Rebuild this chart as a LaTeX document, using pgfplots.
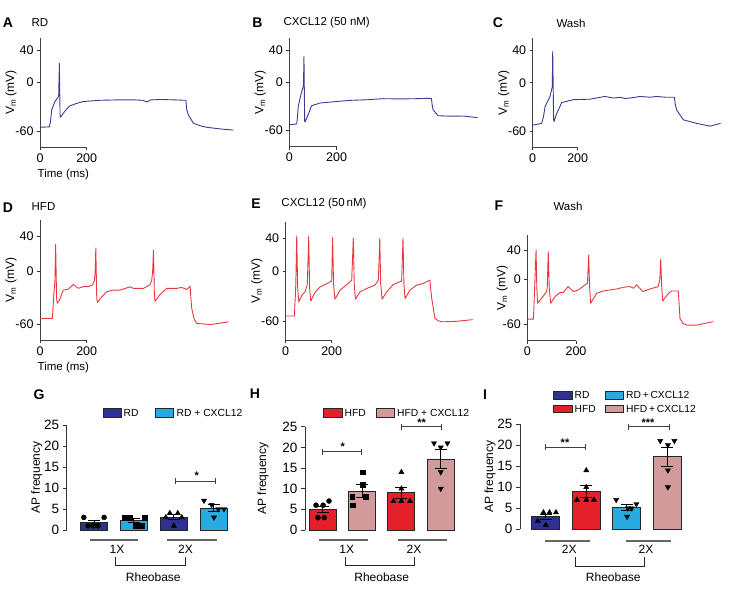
\documentclass[border=0pt]{standalone}
\usepackage{pgfplots}
\pgfplotsset{compat=1.18}
\usepackage{fontspec}
\setmainfont{Liberation Sans}
\definecolor{navy}{HTML}{2E3191}
\definecolor{lblue}{HTML}{29ABE2}
\definecolor{hred}{HTML}{E4212B}
\definecolor{hpink}{HTML}{D39A9B}
\definecolor{tblue}{HTML}{3B3B94}
\definecolor{tred}{HTML}{E8383D}
\newcommand{\fs}[1]{\fontsize{#1}{#1}\selectfont}
\pgfplotsset{
  every non boxed x axis/.append style={x axis line style=-},
  every non boxed y axis/.append style={y axis line style=-},
  trace/.style={scale only axis, clip=false, xmin=0, xmax=200,
    axis x line*=bottom, axis y line*=left,
    xtick={0,200}, ytick={-60,0,40},
    tick align=outside, major tick length=3pt,
    tick style={black!80, line width=0.7pt},
    axis line style={black!75, line width=0.8pt},
    tick label style={font=\fs{12.5}},
    /pgf/number format/assume math mode=true,
    ylabel={V\textsubscript{m} (mV)},
    ylabel style={font=\fs{12}}, ylabel shift=-8pt,
    xlabel style={font=\fs{11.5}},
  },
  tr/.style={line width=0.9pt, line join=round},
  barax/.style={scale only axis, clip=false, ymin=0, ymax=25, ytick={0,5,10,15,20,25},
    hide x axis, axis y line*=left,
    tick align=outside, major tick length=4pt,
    tick style={black!80, line width=0.8pt},
    axis line style={black!80, line width=0.9pt},
    tick label style={font=\fs{13.5}},
    /pgf/number format/assume math mode=true,
    ylabel={AP frequency}, ylabel style={font=\fs{12}},
  },
  bar/.style={ybar, bar width=27pt, bar shift=0pt, draw=black!85, line width=0.8pt},
  err/.style={draw=none, mark=none, error bars/.cd, y dir=both, y explicit,
     error bar style={draw=black, line width=1pt},
     error mark options={rotate=90, mark size=6pt, line width=1pt, draw=black}},
  dots/.style={only marks, black, mark=*, mark size=2.5pt},
  sqs/.style={only marks, black, mark=square*, mark size=2.4pt},
  tup/.style={only marks, black, mark=triangle*, mark size=3pt},
  tdn/.style={only marks, black, mark=triangle*, mark size=3pt, mark options={rotate=180}},
}
\begin{document}
\begin{tikzpicture}
\useasboundingbox (0,0) rectangle (729pt,590pt);
% ---------- A ----------
\begin{axis}[trace, at={(40pt,443pt)}, anchor=south west, width=46.7pt, height=108.7pt,
  ymin=-80, ymax=55, xlabel={Time (ms)}]
\addplot[tr, tblue] coordinates {(0,-55.5) (40,-55) (44,-50) (50,-34) (64,-23.5) (78,-18) (80,-16) (83,24) (86,-42) (88,-43) (100,-38) (114,-33) (128,-29) (155,-26) (186,-23.5) (257,-22) (330,-21.5) (400,-21.4) (440,-22) (457,-24) (475,-21.5) (514,-21) (580,-21.5) (621,-22) (625,-22) (628,-33) (635,-40) (657,-50.5) (690,-54) (714,-55.5) (770,-57.5) (828,-59)};
\end{axis}
% ---------- B ----------
\begin{axis}[trace, at={(289.3pt,443.3pt)}, anchor=south west, width=47.3pt, height=108.4pt,
  ymin=-80, ymax=55]
\addplot[tr, tblue] coordinates {(0,-52.6) (31,-51.7) (34,-45) (38,-29.7) (50,-14) (58,-6) (60,-4) (62,32.5) (65,-48.4) (67,-49) (80,-40) (94,-29) (130,-25.6) (190,-24) (256,-22.3) (330,-21.5) (397,-20.2) (470,-20.5) (538,-20.2) (591,-19.8) (601,-20) (604,-28) (608,-34) (629,-41.4) (679,-42) (735,-41.8) (796,-43.8)};
\end{axis}
% ---------- C ----------
\begin{axis}[trace, at={(532.7pt,442.7pt)}, anchor=south west, width=45pt, height=109pt,
  ymin=-80, ymax=55]
\addplot[tr, tblue] coordinates {(0,-52.5) (40,-50.4) (48,-42) (55,-29.6) (77,-17) (84,-8.75) (87,-5) (89,39) (93,-46) (95,-48) (107,-38) (129,-24.6) (181,-21) (255,-20.4) (321,-17) (340,-18) (359,-19) (388,-18) (410,-19.5) (433,-19) (477,-17) (521,-18) (551,-17) (590,-18) (610,-18) (630,-18) (633,-26) (640,-34) (670,-46) (729,-50.4) (788,-53.75) (835,-50.4)};
\end{axis}
% ---------- D ----------
\begin{axis}[trace, at={(40pt,250pt)}, anchor=south west, width=46.7pt, height=120pt,
  ymin=-78, ymax=59, xlabel={Time (ms)}]
\addplot[tr, tred] coordinates {(0,-53.5) (53,-53.5) (60,-23) (64,-10) (67,31) (71,-30) (74,-36) (83,-32.5) (100,-21) (121,-20) (143,-14.6) (164,-19) (186,-17) (207,-17) (225,-15) (233,-10) (236,-2) (239,27) (243,-30) (246,-35) (264,-28.7) (286,-23) (314,-21) (343,-21) (386,-17.25) (400,-19) (443,-19) (471,-15) (478,-10) (482,-2) (486,24.7) (490,-28) (493,-33.7) (514,-26) (543,-19) (586,-19) (607,-18) (629,-20.3) (643,-16.5) (646,-30) (650,-42) (660,-54) (671,-59) (729,-60.4) (807,-57.3)};
\end{axis}
% ---------- E ----------
\begin{axis}[trace, at={(285.7pt,250pt)}, anchor=south west, width=46pt, height=118.3pt,
  ymin=-83, ymax=60]
\addplot[tr, tred] coordinates {(0,-54) (38,-54) (40,-40) (42,-29) (44,-15) (48,43) (52,-20) (57,-37) (70,-29) (84,-25) (92,-18) (94,-15) (100,42) (104,-20) (109,-36) (128,-25) (149,-19) (185,-14) (198,-12) (200,-10.6) (204,41) (208,-15) (214,-33.7) (236,-22.8) (272,-14.7) (287,-10.6) (294,40) (298,-15) (303,-33.7) (323,-24.8) (352,-20.7) (388,-16.7) (403,-10.6) (409,40) (413,-15) (419,-33.7) (439,-24.8) (468,-15.9) (504,-11.8) (510,40) (514,-15) (519,-32.9) (540,-22.8) (569,-16.7) (598,-14.7) (627,-10.6) (630,-20) (635,-32.9) (649,-57) (665,-60) (685,-61) (743,-60.4) (813,-58.4)};
\end{axis}
% ---------- F ----------
\begin{axis}[trace, at={(527.3pt,249.3pt)}, anchor=south west, width=48.7pt, height=105.7pt,
  ymin=-82, ymax=60, ylabel shift=-12pt]
\addplot[tr, tred] coordinates {(0,-53) (25,-53) (28,-30) (30,-11.6) (36,40) (39,-10) (42,-31.7) (59,-25) (79,-16) (82,-10) (86,37.8) (90,-10) (96,-31.7) (114,-22.8) (134,-17.4) (148,-17) (168,-9.3) (189,-16) (210,-13.8) (237,-7) (247,-4.8) (252,33) (256,-10) (260,-31.7) (285,-18.3) (312,-15.2) (367,-12.5) (395,-10.2) (422,-9.3) (436,-11.6) (449,-7) (474,-16) (504,-12.5) (538,-9.3) (544,0) (548,27.4) (552,-10) (556,-28.6) (580,-18.3) (593,-15.2) (620,-15.2) (623,-30) (627,-52) (640,-59) (655,-61) (696,-61) (764,-56.4)};
\end{axis}
% ---------- G ----------
\begin{axis}[barax, at={(66.7pt,60pt)}, anchor=south west, width=166.8pt, height=105pt, xmin=-0.69, xmax=3.5, ylabel shift=-5pt]
\addplot[bar, fill=navy] coordinates {(0,1.8) (2,3.0)};
\addplot[bar, fill=lblue] coordinates {(1,2.2) (3,5.2)};
\addplot[dots] coordinates {(-0.26,3) (-0.15,1) (-0.02,1) (0.1,1) (0.25,3)};
\addplot[sqs] coordinates {(0.77,3) (0.9,3) (1.05,1) (1.19,1) (1.27,3)};
\addplot[tup] coordinates {(1.8,3) (1.9,4) (2.0,1) (2.1,4) (2.2,3)};
\addplot[tdn] coordinates {(2.76,7) (2.95,6) (3.01,3) (3.12,5) (3.26,5)};
\addplot[err] coordinates {(0,1.8) +- (0,0.5) (1,2.2) +- (0,0.5) (2,3.0) +- (0,0.6) (3,5.2) +- (0,0.8)};
\end{axis}
% ---------- H ----------
\begin{axis}[barax, at={(305pt,60pt)}, anchor=south west, width=155.4pt, height=103.3pt, xmin=-0.45, xmax=3.5, ylabel shift=7pt]
\addplot[bar, fill=hred] coordinates {(0,5.0) (2,9.0)};
\addplot[bar, fill=hpink] coordinates {(1,9.4) (3,17.2)};
\addplot[dots] coordinates {(-0.17,6) (0.01,6) (0.16,7) (-0.12,3) (0.04,3)};
\addplot[sqs] coordinates {(1.02,14) (1.02,11) (0.75,8) (1.1,8) (0.77,6)};
\addplot[tup] coordinates {(2.0,14) (2.0,10) (1.8,7) (2.0,7) (2.22,7)};
\addplot[tdn] coordinates {(2.83,21) (3.17,21) (3.0,20) (3.0,14) (3.0,10)};
\addplot[err] coordinates {(0,5.0) +- (0,0.8) (1,9.4) +- (0,1.6) (2,9.0) +- (0,1.4) (3,17.2) +- (0,2.3)};
\end{axis}
% ---------- I ----------
\begin{axis}[barax, at={(520pt,60.7pt)}, anchor=south west, width=167.3pt, height=105.3pt, xmin=-0.64, xmax=3.5, ylabel shift=-5pt]
\addplot[bar, bar width=28pt, fill=navy] coordinates {(0,3.0)};
\addplot[bar, bar width=28pt, fill=hred] coordinates {(1,9.0)};
\addplot[bar, bar width=28pt, fill=lblue] coordinates {(2,5.2)};
\addplot[bar, bar width=28pt, fill=hpink] coordinates {(3,17.2)};
\addplot[tup] coordinates {(-0.2,2) (-0.06,4) (0.09,4) (0.25,4) (0.0,1)};
\addplot[tup] coordinates {(0.77,7) (1.0,7) (1.19,7) (1.0,10) (1.0,14)};
\addplot[tdn] coordinates {(1.74,7) (2.03,5) (2.24,6) (2.01,3) (2.12,5)};
\addplot[tdn] coordinates {(2.83,21) (3.18,21) (3.02,20) (3.02,14) (3.02,10)};
\addplot[err] coordinates {(0,3.0) +- (0,0.6) (1,9.0) +- (0,1.4) (2,5.2) +- (0,0.8) (3,17.2) +- (0,2.3)};
\end{axis}
% ---------- annotations (pixel coordinates, y downward) ----------
\begin{scope}[shift={(0,590pt)}, x=1pt, y=-1pt]
 \tikzset{lt/.style={font=\bfseries\fs{14}}, tt/.style={font=\fs{11.5}}}
 \node[lt] at (8,22.5) {A};   \node[tt] at (40,23) {RD};
 \node[lt] at (257.5,22.5) {B}; \node[tt] at (326.7,23) {CXCL12 (50 nM)};
 \node[lt] at (498,22.5) {C}; \node[tt] at (571,23) {Wash};
 \node[lt] at (8,207.5) {D};  \node[tt] at (43.5,207) {HFD};
 \node[lt] at (256,204) {E};  \node[tt] at (324,203.5) {CXCL12 (50\,nM)};
 \node[lt] at (499,206) {F};  \node[tt] at (568,206) {Wash};
 \node[lt] at (39,395) {G};
 \node[lt] at (255,394) {H};
 \node[lt] at (485,395) {I};
 % legends
 \tikzset{sw/.style={draw=black!85, line width=0.7pt}, lg/.style={font=\fs{10.3}, anchor=west, inner sep=0pt}}
 \draw[sw, fill=navy] (103,408) rectangle (121,417); \node[lg] at (123.5,412.5) {RD};
 \draw[sw, fill=lblue] (155,408) rectangle (173,417); \node[lg] at (176.5,412.5) {RD + CXCL12};
 \draw[sw, fill=hred] (323,408) rectangle (342,417); \node[lg] at (344.5,412.5) {HFD};
 \draw[sw, fill=hpink] (376,408) rectangle (394,417); \node[lg] at (397,412.5) {HFD + CXCL12};
 \draw[sw, fill=navy] (553,391.5) rectangle (572,399); \node[lg] at (574.5,395.3) {RD};
 \draw[sw, fill=lblue] (605,391.5) rectangle (623,399); \node[lg] at (626,395.3) {RD\,+\,CXCL12};
 \draw[sw, fill=hred] (553,405) rectangle (572,412.5); \node[lg] at (574.5,408.7) {HFD};
 \draw[sw, fill=hpink] (605,405) rectangle (623,412.5); \node[lg] at (626,408.7) {HFD\,+\,CXCL12};
 % significance
 \tikzset{sg/.style={black!75, line width=0.9pt}, st/.style={font=\bfseries\fs{11}, inner sep=0pt}}
 \draw[sg] (175.7,478) -- (175.7,484) (175.7,481) -- (215.7,481) (215.7,478) -- (215.7,484);
 \node[st] at (196.7,476) {*};
 \draw[sg] (322.7,448.7) -- (322.7,454.7) (322.7,451.7) -- (361.7,451.7) (361.7,448.7) -- (361.7,454.7);
 \node[st] at (342.7,446.5) {*};
 \draw[sg] (401.7,423.7) -- (401.7,429.7) (401.7,426.7) -- (441.7,426.7) (441.7,423.7) -- (441.7,429.7);
 \node[st] at (421.7,422.3) {**};
 \draw[sg] (545,444.3) -- (545,450.3) (545,447.3) -- (585,447.3) (585,444.3) -- (585,450.3);
 \node[st] at (565,442.5) {**};
 \draw[sg] (628.3,423.7) -- (628.3,429.7) (628.3,426.7) -- (669,426.7) (669,423.7) -- (669,429.7);
 \node[st] at (648,422.3) {***};
 % group lines, labels, brackets
 \tikzset{gl/.style={black!60, line width=1.5pt}, br/.style={black!85, line width=0.9pt}, gt/.style={font=\fs{12}}}
 \draw[gl] (90,540) -- (138.3,540); \draw[gl] (166.7,540) -- (217.3,540);
 \node[gt] at (117,549) {1X}; \node[gt] at (185.5,549) {2X};
 \draw[br] (115,557) -- (115,565.7) -- (185.7,565.7) -- (185.7,557);
 \node[gt] at (153.3,577) {Rheobase};
 \draw[gl] (319.3,540) -- (367.7,540); \draw[gl] (398,540) -- (446.7,540);
 \node[gt] at (346.7,549) {1X}; \node[gt] at (414,549) {2X};
 \draw[br] (345.7,557) -- (345.7,565.7) -- (414,565.7) -- (414,557);
 \node[gt] at (381.7,577) {Rheobase};
 \draw[gl] (545,541) -- (590,541); \draw[gl] (625.7,541) -- (671,541);
 \node[gt] at (569.3,549.5) {2X}; \node[gt] at (646,549.5) {2X};
 \draw[br] (575,557) -- (575,566) -- (644,566) -- (644,557);
 \node[gt] at (613.3,577) {Rheobase};
\end{scope}
\end{tikzpicture}
\end{document}
